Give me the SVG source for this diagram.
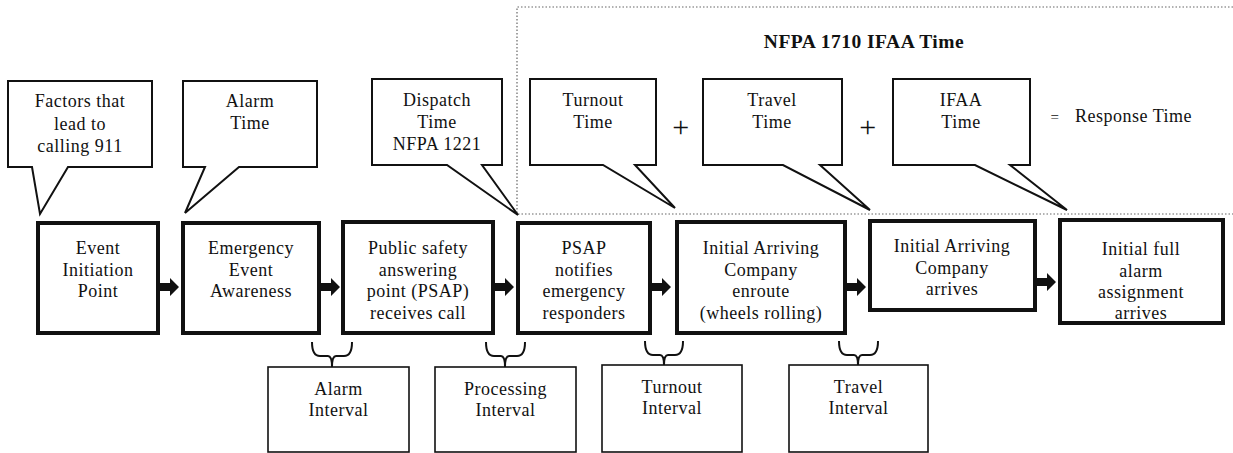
<svg xmlns="http://www.w3.org/2000/svg" width="1233" height="453" viewBox="0 0 1233 453">
<style>
text{font-family:"Liberation Serif","Times New Roman",serif;font-size:18px;fill:#111;text-anchor:middle;letter-spacing:0.5px}
.main{fill:#fff;stroke:#111;stroke-width:4}
.call{fill:#fff;stroke:#111;stroke-width:2;stroke-linejoin:miter}
.sub{fill:#fff;stroke:#111;stroke-width:1.6}
.brace{fill:none;stroke:#111;stroke-width:2}
.arr{fill:#111}
.dot{fill:none;stroke:#666;stroke-width:1.2;stroke-dasharray:1.5 2}
.title{font-weight:bold;font-size:19.5px}
.plus{font-size:30px}
</style>
<rect width="1233" height="453" fill="#fff"/>
<path class="dot" d="M1233,7 L517,7 L517,214 L1233,214"/>
<text class="title" x="864" y="48">NFPA 1710 IFAA Time</text>

<g id="callout-factors">
<path class="call" d="M8,81 H152 V167 H68 L40,214 L32,167 H8 Z"/>
<text x="80" y="107">Factors that</text><text x="80" y="130">lead to</text><text x="80" y="152">calling 911</text>
</g>
<g id="callout-alarm">
<path class="call" d="M183,81 H317 V167 H239 L185,213 L205,167 H183 Z"/>
<text x="250" y="107">Alarm</text><text x="250" y="129">Time</text>
</g>
<g id="callout-dispatch">
<path class="call" d="M372,79 H502 V165 H482 L518,215 L447,165 H372 Z"/>
<text x="437" y="106">Dispatch</text><text x="437" y="128">Time</text><text x="437" y="150">NFPA 1221</text>
</g>
<g id="callout-turnout">
<path class="call" d="M530,79 H656 V165 H635 L675,208 L603,165 H530 Z"/>
<text x="593" y="106">Turnout</text><text x="593" y="128">Time</text>
</g>
<text class="plus" x="681" y="137">+</text>
<g id="callout-travel">
<path class="call" d="M703,79 H842 V165 H820 L870,210 L783,165 H703 Z"/>
<text x="772" y="106">Travel</text><text x="772" y="128">Time</text>
</g>
<text class="plus" x="868" y="137">+</text>
<g id="callout-ifaa">
<path class="call" d="M893,79 H1030 V165 H1010 L1067,210 L975,165 H893 Z"/>
<text x="961" y="106">IFAA</text><text x="961" y="128">Time</text>
</g>
<text x="1055" y="122" style="font-size:15px">=</text>
<text x="1075" y="122" style="text-anchor:start">Response Time</text>

<g id="event-initiation">
<rect class="main" x="38" y="223" width="120" height="110"/>
<text x="98" y="254">Event</text><text x="98" y="275.5">Initiation</text><text x="98" y="297">Point</text>
</g>
<g id="event-awareness">
<rect class="main" x="183" y="223" width="136" height="110"/>
<text x="251" y="254">Emergency</text><text x="251" y="275.5">Event</text><text x="251" y="297">Awareness</text>
</g>
<g id="psap-receives">
<rect class="main" x="343" y="222" width="150" height="111"/>
<text x="418" y="254">Public safety</text><text x="418" y="275.5">answering</text><text x="418" y="297">point (PSAP)</text><text x="418" y="318.5">receives call</text>
</g>
<g id="psap-notifies">
<rect class="main" x="518" y="223" width="132" height="110"/>
<text x="584" y="254">PSAP</text><text x="584" y="275.5">notifies</text><text x="584" y="297">emergency</text><text x="584" y="318.5">responders</text>
</g>
<g id="company-enroute">
<rect class="main" x="677" y="222" width="168" height="111"/>
<text x="761" y="254">Initial Arriving</text><text x="761" y="275.5">Company</text><text x="761" y="297">enroute</text><text x="761" y="318.5">(wheels rolling)</text>
</g>
<g id="company-arrives">
<rect class="main" x="870" y="221" width="165" height="89"/>
<text x="952" y="252">Initial Arriving</text><text x="952" y="273.5">Company</text><text x="952" y="295">arrives</text>
</g>
<g id="full-alarm">
<rect class="main" x="1060" y="220" width="163" height="103"/>
<text x="1141" y="255">Initial full</text><text x="1141" y="276.5">alarm</text><text x="1141" y="298">assignment</text><text x="1141" y="319">arrives</text>
</g>

<g id="connectors">
<path class="arr" d="M160,283 H170 V278 L179,287 L170,296 V291 H160 Z"/>
<path class="arr" d="M321,283 H331 V278 L340,287 L331,296 V291 H321 Z"/>
<path class="arr" d="M495,283 H505 V278 L514,287 L505,296 V291 H495 Z"/>
<path class="arr" d="M652,283 H662 V278 L671,287 L662,296 V291 H652 Z"/>
<path class="arr" d="M847,283 H857 V278 L866,287 L857,296 V291 H847 Z"/>
<path class="arr" d="M1037,278 H1047 V273 L1056,282 L1047,291 V286 H1037 Z"/>
<path class="brace" d="M312,342 Q312,356 320,356 L328,356 Q332,356 332,367 Q332,356 336,356 L344,356 Q352,356 352,342"/>
<path class="brace" d="M486,342 Q486,356 494,356 L501,356 Q505,356 505,367 Q505,356 509,356 L517,356 Q525,356 525,342"/>
<path class="brace" d="M645,341 Q645,355 653,355 L660,355 Q664,355 664,365 Q664,355 668,355 L675,355 Q683,355 683,341"/>
<path class="brace" d="M839,341 Q839,355 847,355 L854,355 Q858,355 858,365 Q858,355 862,355 L870,355 Q878,355 878,341"/>
</g>

<g id="alarm-interval">
<rect class="sub" x="268" y="367" width="141" height="85"/>
<text x="338.5" y="395">Alarm</text><text x="338.5" y="416">Interval</text>
</g>
<g id="processing-interval">
<rect class="sub" x="435" y="367" width="141" height="85"/>
<text x="505.5" y="395">Processing</text><text x="505.5" y="416">Interval</text>
</g>
<g id="turnout-interval">
<rect class="sub" x="602" y="365" width="140" height="87"/>
<text x="672" y="393">Turnout</text><text x="672" y="414">Interval</text>
</g>
<g id="travel-interval">
<rect class="sub" x="789" y="365" width="139" height="87"/>
<text x="858.5" y="393">Travel</text><text x="858.5" y="414">Interval</text>
</g>
</svg>
